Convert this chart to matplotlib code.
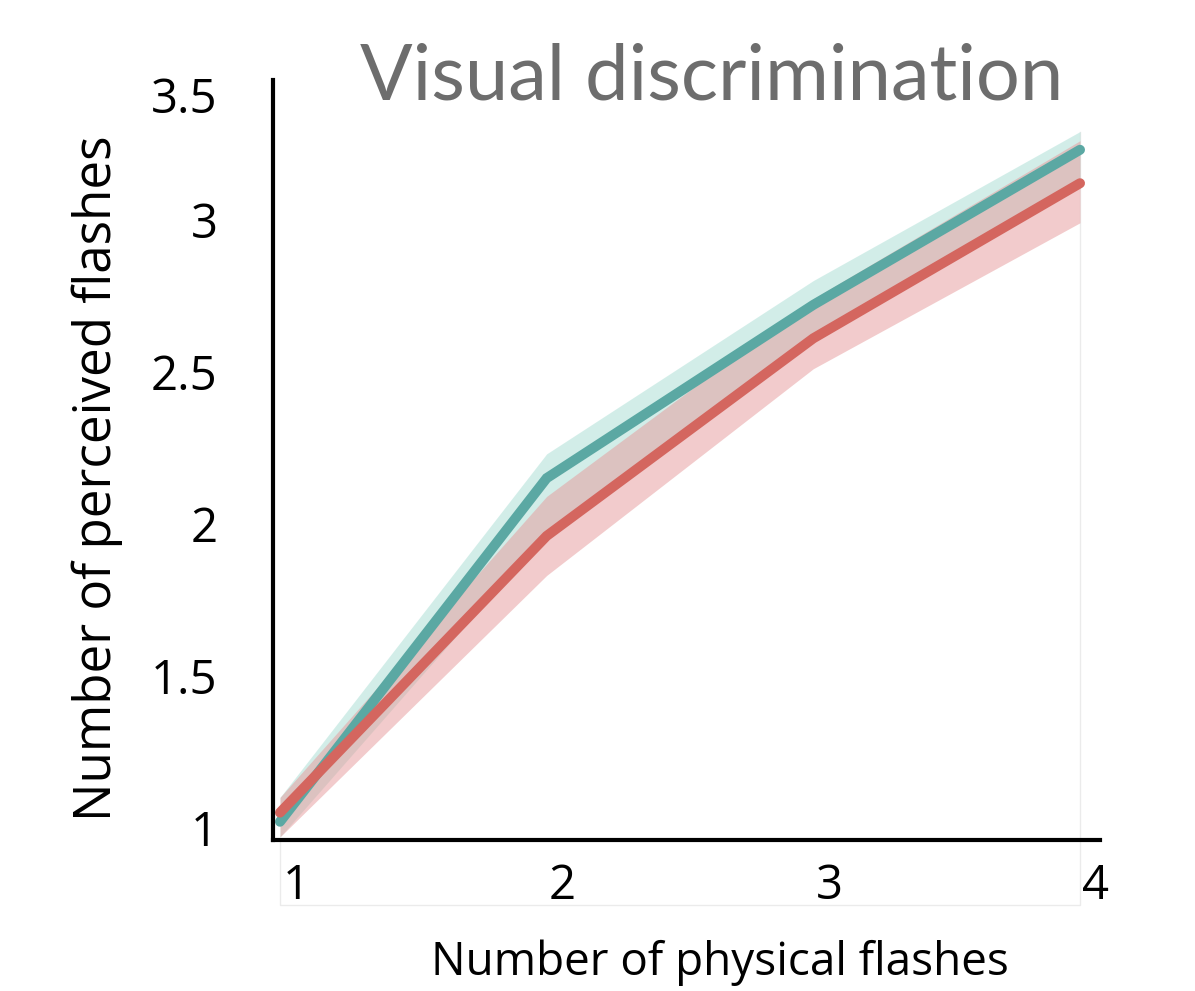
import matplotlib
matplotlib.use("Agg")
import matplotlib.pyplot as plt
import matplotlib.transforms as mtransforms

flashes = [1, 2, 3, 4]
teal_mean = [1.02, 2.15, 2.72, 3.23]
teal_low = [0.97, 1.97, 2.62, 3.12]
teal_high = [1.10, 2.23, 2.80, 3.29]
red_mean = [1.05, 1.96, 2.61, 3.12]
red_low = [0.97, 1.83, 2.51, 2.99]
red_high = [1.10, 2.09, 2.74, 3.26]

ytick_pos = [1, 1.5, 2, 2.5, 3, 3.41]
ytick_lab = ['1', '1.5', '2', '2.5', '3', '3.5']

TEAL = '#5ba8a3'
RED = '#d4665f'
FAINT = '#ebebeb'

fig = plt.figure(figsize=(11.95, 9.91), dpi=100)
ax = fig.add_axes([0.2285, 0.1524, 0.692, 0.767])

ax.fill_between(flashes, teal_low, teal_high, color='#a7ddd3', alpha=0.5, lw=0)
ax.fill_between(flashes, red_low, red_high, color='#e6999a', alpha=0.5, lw=0)
ax.plot(flashes, teal_mean, color=TEAL, lw=7.2, solid_capstyle='round', solid_joinstyle='miter')
ax.plot(flashes, red_mean, color=RED, lw=7.2, solid_capstyle='round', solid_joinstyle='miter')

# faint leftover frame of the plotting range
ybot = 0.747
ytop = max(teal_high)
ax.plot([1, 1, 4, 4], [0.96, ybot, ybot, ytop], color=FAINT, lw=1, clip_on=False, zorder=0)

ax.set_xlim(0.974, 4.075)
ax.set_ylim(0.96, 3.46)

for side in ['top', 'right']:
    ax.spines[side].set_visible(False)
for side in ['left', 'bottom']:
    ax.spines[side].set_linewidth(3)
    ax.spines[side].set_color('black')

tick_font = ['Open Sans', 'DejaVu Sans']
ax.set_xticks(flashes)
ax.set_xticklabels([str(f) for f in flashes], fontsize=34, family=tick_font)
ax.set_yticks(ytick_pos)
ax.set_yticklabels(ytick_lab, fontsize=34, family=tick_font)
ax.tick_params(length=0)
ax.tick_params(axis='x', pad=16)
ax.tick_params(axis='y', pad=40)

shift = mtransforms.ScaledTranslation(16 / 100, 0, fig.dpi_scale_trans)
for lab in ax.get_xticklabels():
    lab.set_transform(lab.get_transform() + shift)

fig.text(720 / 1195, 1 - 963 / 991, 'Number of physical flashes', ha='center', va='center',
         fontsize=33, family=tick_font)
fig.text(97 / 1195, 1 - 478 / 991, 'Number of perceived flashes', ha='center', va='center',
         rotation=90, fontsize=36.8, family=tick_font)
fig.text(712 / 1195, 1 - 100 / 991, 'Visual discrimination', ha='center', va='baseline',
         fontsize=56, color='#6d6d6d', family=['Lato', 'DejaVu Sans'])

fig.savefig('out.png', dpi=100)
